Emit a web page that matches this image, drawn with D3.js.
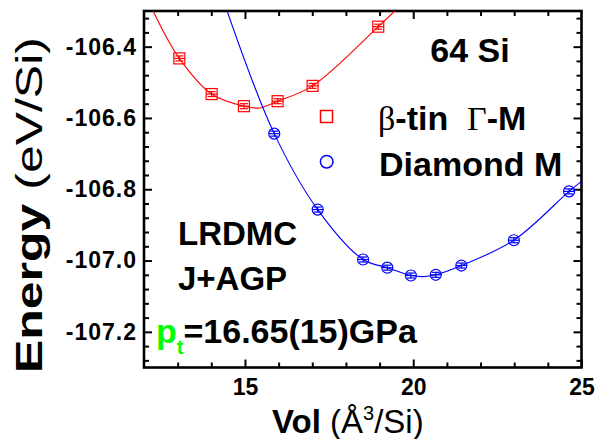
<!DOCTYPE html>
<html>
<head>
<meta charset="utf-8">
<script src="https://cdn.jsdelivr.net/npm/d3@7"></script>
<style>
  body { margin: 0; background: #fff; }
  svg { display: block; font-family: Arial, "Liberation Sans", sans-serif; }
</style>
</head>
<body>
<svg id="chart" width="597" height="439"></svg>
<script>
// beta-tin (Gamma-M) points
const volTin = [13.05, 14.01, 14.97, 15.97, 17.01, 18.96];
const eTin   = [-106.433, -106.533, -106.567, -106.553, -106.51, -106.344];
const errTin = [0.007, 0.007, 0.007, 0.007, 0.007, 0.007];

// diamond (M) points
const volDia = [15.87, 17.16, 18.51, 19.23, 19.93, 20.67, 21.43, 22.99, 24.63];
const eDia   = [-106.644, -106.857, -106.997, -107.02, -107.042, -107.04, -107.014, -106.943, -106.806];
const errDia = [0.007, 0.007, 0.007, 0.007, 0.007, 0.007, 0.007, 0.007, 0.007];

// fitted curves
const fitTinVol = [12.27, 13.05, 14.01, 14.97, 15.45, 15.97, 17.01, 18.96, 19.45];
const fitTinE   = [-106.3, -106.433, -106.533, -106.567, -106.572, -106.553, -106.51, -106.344, -106.3];
const fitDiaVol = [14.47, 15.87, 17.16, 18.51, 19.23, 19.93, 20.3, 20.67, 21.43, 22.99, 24.63, 25.0];
const fitDiaE   = [-106.3, -106.644, -106.857, -106.997, -107.02, -107.042, -107.045, -107.04, -107.014, -106.943, -106.806, -106.778];

const xMajor = [15, 20, 25];
const yMajor = [-107.2, -107.0, -106.8, -106.6, -106.4];

const svg = d3.select("#chart");
const margin = { top: 11, right: 15.5, bottom: 71.5, left: 144 };
const W = 597, H = 439;
const innerW = W - margin.left - margin.right;
const innerH = H - margin.top - margin.bottom;

const x = d3.scaleLinear().domain([12, 25]).range([0, innerW]);
const y = d3.scaleLinear().domain([-107.3, -106.3]).range([innerH, 0]);

const g = svg.append("g").attr("transform", `translate(${margin.left},${margin.top})`);

svg.append("clipPath").attr("id", "plotClip")
  .append("rect").attr("x", 0).attr("y", 0).attr("width", innerW).attr("height", innerH);

const xMinor = d3.range(13, 25).filter(v => !xMajor.includes(v));
const yMinor = d3.range(0, 25).map(i => +(-107.28 + i * 0.04).toFixed(2))
  .filter(v => !yMajor.some(m => Math.abs(m - v) < 1e-6));

function styleAxis(sel) {
  sel.select(".domain").remove();
  sel.selectAll("line").attr("stroke", "#000").attr("stroke-width", 2);
  sel.selectAll("text").attr("fill", "#000");
}

// bottom
g.append("g").attr("transform", `translate(0,${innerH})`)
  .call(d3.axisBottom(x).tickValues(xMajor).tickSize(-8).tickPadding(11).tickFormat(d3.format("d")))
  .call(styleAxis)
  .selectAll("text").style("font-size", "23px").style("font-weight", 700);
g.append("g").attr("transform", `translate(0,${innerH})`)
  .call(d3.axisBottom(x).tickValues(xMinor).tickSize(-5).tickFormat(""))
  .call(styleAxis);
// top
g.append("g").call(d3.axisTop(x).tickValues(xMajor.filter(v => v < 25)).tickSize(-8).tickFormat("")).call(styleAxis);
g.append("g").call(d3.axisTop(x).tickValues(xMinor).tickSize(-5).tickFormat("")).call(styleAxis);
// left
g.append("g")
  .call(d3.axisLeft(y).tickValues(yMajor).tickSize(-8).tickPadding(7).tickFormat(d => d.toFixed(1)))
  .call(styleAxis)
  .selectAll("text").style("font-size", "23px").style("font-weight", 700).attr("letter-spacing", "1px");
g.append("g").call(d3.axisLeft(y).tickValues(yMinor).tickSize(-5).tickFormat("")).call(styleAxis);
// right
g.append("g").attr("transform", `translate(${innerW},0)`)
  .call(d3.axisRight(y).tickValues(yMajor).tickSize(-8).tickFormat("")).call(styleAxis);
g.append("g").attr("transform", `translate(${innerW},0)`)
  .call(d3.axisRight(y).tickValues(yMinor).tickSize(-5).tickFormat("")).call(styleAxis);

// frame
g.append("rect").attr("width", innerW).attr("height", innerH)
  .attr("fill", "none").attr("stroke", "#000").attr("stroke-width", 2.6);

// fit curves
const line = d3.line().x(d => x(d[0])).y(d => y(d[1])).curve(d3.curveCatmullRom.alpha(0.5));
const curves = g.append("g").attr("clip-path", "url(#plotClip)");
curves.append("path").datum(d3.zip(fitTinVol, fitTinE))
  .attr("d", line).attr("fill", "none").attr("stroke", "#ff0000").attr("stroke-width", 1.1);
curves.append("path").datum(d3.zip(fitDiaVol, fitDiaE))
  .attr("d", line).attr("fill", "none").attr("stroke", "#0000ff").attr("stroke-width", 1.1);

// error bars + markers
function drawPoints(vols, es, errs, colour, shape) {
  const pts = g.append("g");
  vols.forEach((v, i) => {
    const cx = x(v), cy = y(es[i]);
    const y0 = y(es[i] - errs[i]), y1 = y(es[i] + errs[i]);
    const p = pts.append("g").attr("stroke", colour).attr("stroke-width", 1.2).attr("fill", "none");
    if (shape === "square") {
      p.append("rect").attr("x", cx - 5.5).attr("y", cy - 5.5).attr("width", 11).attr("height", 11);
    } else {
      p.append("circle").attr("cx", cx).attr("cy", cy).attr("r", 5.5);
    }
    p.append("line").attr("x1", cx).attr("x2", cx).attr("y1", y0).attr("y2", y1);
    p.append("line").attr("x1", cx - 4).attr("x2", cx + 4).attr("y1", y0).attr("y2", y0);
    p.append("line").attr("x1", cx - 4).attr("x2", cx + 4).attr("y1", y1).attr("y2", y1);
    p.append("line").attr("x1", cx - 5.5).attr("x2", cx + 5.5).attr("y1", cy).attr("y2", cy);
  });
}
drawPoints(volTin, eTin, errTin, "#ff0000", "square");
drawPoints(volDia, eDia, errDia, "#0000ff", "circle");

// legend
svg.append("rect").attr("x", 320.5).attr("y", 110.5).attr("width", 12).attr("height", 12)
  .attr("fill", "none").attr("stroke", "#ff0000").attr("stroke-width", 1.5);
svg.append("circle").attr("cx", 326.7).attr("cy", 161.7).attr("r", 6.3)
  .attr("fill", "none").attr("stroke", "#0000ff").attr("stroke-width", 1.5);

const leg1 = svg.append("text").attr("x", 378).attr("y", 129.5).style("font-size", "34px")
  .style("white-space", "pre");
leg1.append("tspan").style("font-family", "'Liberation Serif', 'Times New Roman', serif").text("β");
leg1.append("tspan").style("font-weight", 700).text("-tin  ");
leg1.append("tspan").style("font-family", "'Liberation Serif', 'Times New Roman', serif").text("Γ");
leg1.append("tspan").style("font-weight", 700).text("-M");

svg.append("text").attr("x", 379).attr("y", 176).style("font-size", "34px").style("font-weight", 700)
  .text("Diamond M");

svg.append("text").attr("x", 470).attr("y", 61.5).attr("text-anchor", "middle")
  .style("font-size", "34px").style("font-weight", 700).text("64 Si");

svg.append("text").attr("x", 178).attr("y", 245).style("font-size", "33px").style("font-weight", 700).text("LRDMC");
svg.append("text").attr("x", 178).attr("y", 290).style("font-size", "33px").style("font-weight", 700).text("J+AGP");

const pt = svg.append("text").attr("x", 156).attr("y", 343).style("font-size", "34px").style("font-weight", 700);
pt.append("tspan").attr("fill", "#00ff00").text("p");
pt.append("tspan").attr("fill", "#00ff00").attr("dy", 11).style("font-size", "20px").text("t");
pt.append("tspan").attr("dy", -11).text("=16.65(15)GPa");

// axis titles
const xt = svg.append("text").attr("x", 272).attr("y", 433).style("font-size", "33px");
xt.append("tspan").style("font-weight", 700).text("Vol");
xt.append("tspan").text(" (Å");
xt.append("tspan").attr("dy", -13).style("font-size", "20px").text("3");
xt.append("tspan").attr("dy", 13).text("/Si)");

const yt = svg.append("text").style("font-size", "37px");
yt.append("tspan").style("font-weight", 700).text("Energy");
yt.append("tspan").text(" (eV/Si)");
// the reference title is drawn longer along its baseline: stretch it to the same span
const ytLen = yt.node().getComputedTextLength();
const ytScale = Math.max(1, 336 / ytLen);
yt.attr("transform", `translate(42,373) rotate(-90) scale(${ytScale},1)`);
</script>
</body>
</html>
